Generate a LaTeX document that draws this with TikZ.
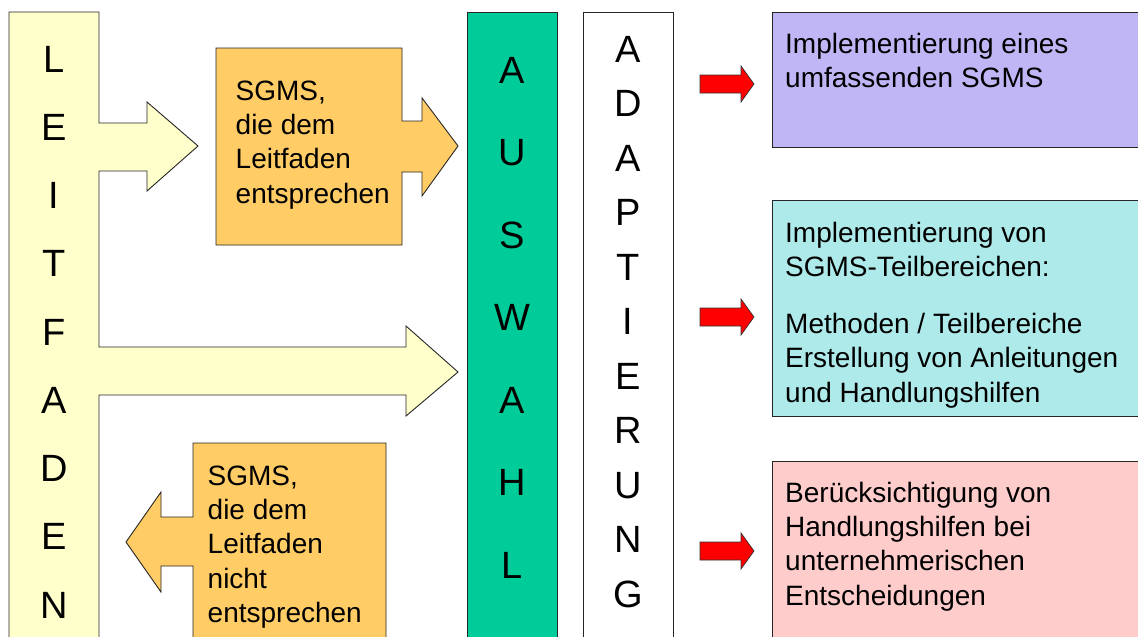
\documentclass[tikz,border=0pt]{standalone}
\usepackage{fontspec}
\setmainfont{Liberation Sans}
\definecolor{leit}{RGB}{255,255,204}
\definecolor{orng}{RGB}{255,204,102}
\definecolor{ausw}{RGB}{0,204,153}
\definecolor{lila}{RGB}{192,182,246}
\definecolor{cyanbox}{RGB}{174,234,234}
\definecolor{pinkbox}{RGB}{255,204,204}
\definecolor{redarr}{RGB}{255,0,0}
\begin{document}
\begin{tikzpicture}[x=1pt,y=-1pt,line join=miter,
  outline/.style={draw=black!85,line width=0.9pt},
  colbox/.style={outline,anchor=north west,inner sep=0pt,minimum width=90pt,minimum height=640pt},
  rbox/.style={outline,anchor=north west,inner sep=0pt,minimum width=380pt},
  letters/.style={anchor=north,inner sep=0pt,align=center,font=\fontsize{38}{#1}\selectfont},
  boxtext/.style={anchor=north west,inner sep=0pt,align=left,font=\fontsize{28}{34.3}\selectfont},
  redarrow/.style={draw=black!80,line width=0.7pt,fill=redarr}]
\useasboundingbox (0,0) rectangle (1138,637);
\clip (0,0) rectangle (1138,637);
% Leitfaden column with its two arrows
\path[outline,fill=leit] (9,12) -- (99,12) -- (99,123) -- (147,123) -- (147,102) -- (198,146)
  -- (147,191) -- (147,171) -- (99,171) -- (99,347) -- (406,347) -- (406,326) -- (458,372)
  -- (406,416) -- (406,395) -- (99,395) -- (99,660) -- (9,660) -- cycle;
\coordinate (leitfaden) at (54,12);
% orange callouts
\path[outline,fill=orng] (216,48) -- (402,48) -- (402,121) -- (422,121) -- (422,98) -- (458,146)
  -- (422,196) -- (422,172) -- (402,172) -- (402,245) -- (216,245) -- cycle;
\path[outline,fill=orng] (386,443) -- (386,660) -- (193,660) -- (193,566) -- (161,566) -- (161,592)
  -- (126,542) -- (161,492) -- (161,517) -- (193,517) -- (193,443) -- cycle;
% columns
\node[colbox,fill=ausw] (auswahl) at (467,12) {};
\node[colbox,fill=white] (adapt) at (583,12) {};
% right boxes
\node[rbox,fill=lila,minimum height=135pt] (b1) at (772,12) {};
\node[rbox,fill=cyanbox,minimum height=216pt] (b2) at (772,200) {};
\node[rbox,fill=pinkbox,minimum height=200pt] (b3) at (772,461) {};
% red arrows
\foreach \cy/\nm in {84/r1,317/r2,551/r3}{
  \path[redarrow] (700,\cy-9) -- (741,\cy-9) -- (741,\cy-18) -- (754,\cy) -- (741,\cy+18)
    -- (741,\cy+9) -- (700,\cy+9) -- cycle;
  \coordinate (\nm) at (754,\cy);
}
% column letters
\node[letters=68.25] (lt) at (54,24.2) {\strut L\\E\\I\\T\\F\\A\\D\\E\\N};
\node[letters=82.5] (at) at (512,25.25) {\strut A\\U\\S\\W\\A\\H\\L};
\node[letters=54.5] (dt) at (628,23.85) {\strut A\\D\\A\\P\\T\\I\\E\\R\\U\\N\\G};
% texts
\node[boxtext] (o1) at (235.5,76) {\strut SGMS,\\die dem\\Leitfaden\\entsprechen};
\node[boxtext] (o2) at (207.5,461) {\strut SGMS,\\die dem\\Leitfaden\\nicht\\entsprechen};
\node[boxtext] (t1) at (785,29) {\strut Implementierung eines\\umfassenden SGMS};
\node[boxtext] (t2) at (785,218) {\strut Implementierung von\\SGMS-Teilbereichen:\\[22.7pt]Methoden / Teilbereiche\\Erstellung von Anleitungen\\und Handlungshilfen};
\node[boxtext] (t3) at (785,478) {\strut Berücksichtigung von\\Handlungshilfen bei\\unternehmerischen\\Entscheidungen};
\end{tikzpicture}
\end{document}
